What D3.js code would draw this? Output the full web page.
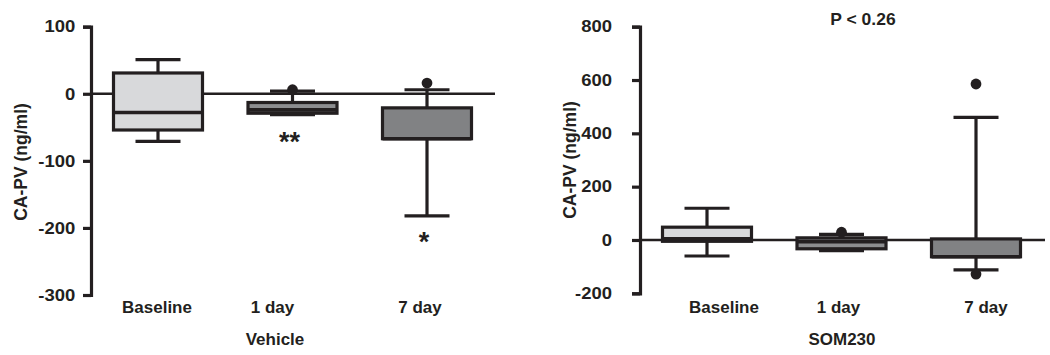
<!DOCTYPE html>
<html>
<head>
<meta charset="utf-8">
<script src="https://cdn.jsdelivr.net/npm/d3@7"></script>
<style>
  body { margin: 0; background: #fff; }
  text { font-family: "Liberation Sans", Arial, sans-serif; font-weight: bold; fill: #231f20; }
</style>
</head>
<body>
<div id="wrapper"></div>
<script>
// DATA
const categories = ["Baseline", "1 day", "7 day"]

// Vehicle panel
const vehicleWhiskerLow = [-71, -31, -182]
const vehicleQ1 = [-54, -29, -67]
const vehicleMedian = [-28, -24, -67]
const vehicleQ3 = [31, -13, -21]
const vehicleWhiskerHigh = [51, 4, 6]
const vehicleOutliers = [[], [6], [16]]
const vehicleTicks = [100, 0, -100, -200, -300]
const vehicleMarks = ["", "**", "*"]
const vehicleMarkValues = [null, -66, -215]

// SOM230 panel
const somWhiskerLow = [-60, -40, -112]
const somQ1 = [-5, -33, -63]
const somMedian = [4, -6, -63]
const somQ3 = [48, 8, 4]
const somWhiskerHigh = [119, 21, 460]
const somOutliers = [[], [29], [585, -128]]
const somTicks = [800, 600, 400, 200, 0, -200]

const ink = "#231f20"
const fills = ["#d8d9db", "#8c8d8f", "#818284"]

const svg = d3.select("#wrapper")
  .append("svg")
  .attr("width", 1050)
  .attr("height", 355)

function drawPanel(p) {
  const y = d3.scaleLinear().domain(p.domain).range(p.range)
  const x = d3.scalePoint()
    .domain(categories)
    .range([p.axisX + 67, p.axisX + 67 + 269])

  const boxes = categories.map((c, i) => ({
    cat: c, i,
    lo: p.low[i], q1: p.q1[i], med: p.med[i], q3: p.q3[i], hi: p.high[i],
    outliers: p.outliers[i]
  }))

  const g = svg.append("g")

  // zero line behind everything
  g.append("line")
    .attr("x1", p.axisX).attr("x2", p.zeroEnd)
    .attr("y1", y(0)).attr("y2", y(0))
    .attr("stroke", ink).attr("stroke-width", 2.6)

  // y axis
  const axis = g.append("g")
    .attr("transform", `translate(${p.axisX},0)`)
    .call(d3.axisLeft(y).tickValues(p.ticks).tickSize(8).tickPadding(p.tickPad).tickFormat(d3.format("d")))
  axis.select(".domain").attr("stroke", ink).attr("stroke-width", 3.2)
  axis.selectAll(".tick line").attr("stroke", ink).attr("stroke-width", 3.2)
  axis.selectAll(".tick text")
    .attr("font-size", 16.5)
    .attr("fill", ink)
    .attr("transform", "scale(1.12,1)")
    .text(d => d < 0 ? "-" + Math.abs(d) : d)

  const bw = 89, cw = 45

  // whiskers
  g.selectAll(".whisker").data(boxes).join("line")
    .attr("x1", d => x(d.cat)).attr("x2", d => x(d.cat))
    .attr("y1", d => y(d.lo)).attr("y2", d => y(d.hi))
    .attr("stroke", ink).attr("stroke-width", 3.2)
  g.selectAll(".capHi").data(boxes).join("line")
    .attr("x1", d => x(d.cat) - cw / 2).attr("x2", d => x(d.cat) + cw / 2)
    .attr("y1", d => y(d.hi)).attr("y2", d => y(d.hi))
    .attr("stroke", ink).attr("stroke-width", 3.2)
  g.selectAll(".capLo").data(boxes).join("line")
    .attr("x1", d => x(d.cat) - cw / 2).attr("x2", d => x(d.cat) + cw / 2)
    .attr("y1", d => y(d.lo)).attr("y2", d => y(d.lo))
    .attr("stroke", ink).attr("stroke-width", 3.2)

  // boxes
  g.selectAll(".box").data(boxes).join("rect")
    .attr("x", d => x(d.cat) - bw / 2)
    .attr("width", bw)
    .attr("y", d => y(d.q3))
    .attr("height", d => y(d.q1) - y(d.q3))
    .attr("fill", d => fills[d.i])
    .attr("stroke", ink).attr("stroke-width", 3.2)

  // medians
  g.selectAll(".median").data(boxes).join("line")
    .attr("x1", d => x(d.cat) - bw / 2).attr("x2", d => x(d.cat) + bw / 2)
    .attr("y1", d => y(d.med)).attr("y2", d => y(d.med))
    .attr("stroke", ink).attr("stroke-width", 3.6)

  // outliers
  const pts = boxes.flatMap(d => d.outliers.map(v => ({ cat: d.cat, v })))
  g.selectAll(".outlier").data(pts).join("circle")
    .attr("cx", d => x(d.cat)).attr("cy", d => y(d.v))
    .attr("r", 5.4)
    .attr("fill", ink)

  // significance marks
  if (p.marks) {
    g.selectAll(".mark").data(boxes.filter(d => p.marks[d.i])).join("text")
      .attr("x", d => x(d.cat) - 3)
      .attr("y", d => y(p.markValues[d.i]) + 13)
      .attr("text-anchor", "middle")
      .attr("font-size", 27)
      .text(d => p.marks[d.i])
  }

  // category labels
  g.selectAll(".cat").data(boxes).join("text")
    .attr("text-anchor", "middle")
    .attr("font-size", 16.5)
    .attr("transform", d => `translate(${x(d.cat) + p.labelShift[d.i]},313) scale(1.03,1)`)
    .text(d => d.cat)

  // group title
  g.append("text")
    .attr("text-anchor", "middle")
    .attr("font-size", 16.5)
    .attr("transform", `translate(${p.titleX},345) scale(1.03,1)`)
    .text(p.title)

  // y label
  g.append("text")
    .attr("text-anchor", "middle")
    .attr("font-size", 17.5)
    .attr("transform", `translate(${p.yLabelX},${p.yLabelY}) rotate(-90)`)
    .text("CA-PV (ng/ml)")

  if (p.note) {
    g.append("text")
      .attr("text-anchor", "middle")
      .attr("font-size", 16.5)
      .attr("transform", `translate(${p.note.x},25) scale(1.06,1)`)
      .text(p.note.text)
  }
}

drawPanel({
  domain: [-300, 100], range: [295, 26.7], axisX: 91, zeroEnd: 495,
  ticks: vehicleTicks, tickPad: 6,
  low: vehicleWhiskerLow, q1: vehicleQ1, med: vehicleMedian, q3: vehicleQ3,
  high: vehicleWhiskerHigh, outliers: vehicleOutliers,
  marks: vehicleMarks, markValues: vehicleMarkValues,
  labelShift: [-1, -20, -7],
  title: "Vehicle", titleX: 275, yLabelX: 27, yLabelY: 162
})

drawPanel({
  domain: [-200, 800], range: [293.3, 26.7], axisX: 640, zeroEnd: 1045,
  ticks: somTicks, tickPad: 17,
  low: somWhiskerLow, q1: somQ1, med: somMedian, q3: somQ3,
  high: somWhiskerHigh, outliers: somOutliers,
  labelShift: [17, -3, 10],
  title: "SOM230", titleX: 842, yLabelX: 576, yLabelY: 160,
  note: { x: 863, text: "P < 0.26" }
})
</script>
</body>
</html>
